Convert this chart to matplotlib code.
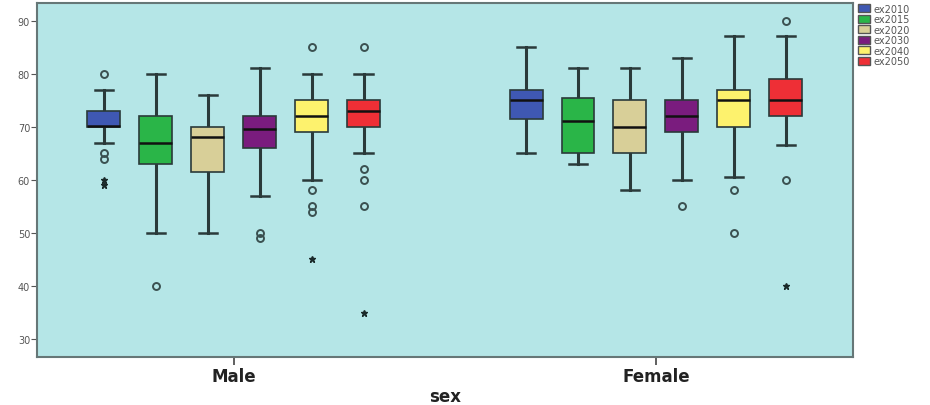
import matplotlib
matplotlib.use("Agg")
import matplotlib.pyplot as plt
from matplotlib.patches import Patch

groups = ["Male", "Female"]
series = ["ex2010", "ex2015", "ex2020", "ex2030", "ex2040", "ex2050"]
colors = ["#3f58b3", "#2ab548", "#d8cf98", "#7a1c7e", "#fdf26d", "#ee2f36"]

# stats per group per series: q1, median, q3, whisker low, whisker high
male_q1 = [70, 63, 61.5, 66, 69, 70]
male_med = [70.1, 67, 68, 69.5, 72, 73]
male_q3 = [73, 72, 70, 72, 75, 75]
male_wlo = [67, 50, 50, 57, 60, 65]
male_whi = [77, 80, 76, 81, 80, 80]
male_out = [[80, 65, 64], [40], [], [50, 49], [85, 58, 55, 54], [85, 62, 60, 55]]
male_ext = [[60, 59], [], [], [], [45], [35]]

female_q1 = [71.5, 65, 65, 69, 70, 72]
female_med = [75, 71, 70, 72, 75, 75]
female_q3 = [77, 75.5, 75, 75, 77, 79]
female_wlo = [65, 63, 58, 60, 60.5, 66.5]
female_whi = [85, 81, 81, 83, 87, 87]
female_out = [[], [], [], [55], [58, 50], [90, 60]]
female_ext = [[], [], [], [], [], [40]]

yticks = [30, 40, 50, 60, 70, 80, 90]

fig = plt.figure(figsize=(9.3, 4.06), dpi=100)
ax = fig.add_axes([0.0398, 0.118, 0.877, 0.872])
ax.set_facecolor("#b5e6e7")

spacing = 0.123
width = 0.078
offsets = [(i - 2.5) * spacing for i in range(len(series))]

data = [
    (male_q1, male_med, male_q3, male_wlo, male_whi, male_out, male_ext),
    (female_q1, female_med, female_q3, female_wlo, female_whi, female_out, female_ext),
]

for g, (q1, med, q3, wlo, whi, out, ext) in enumerate(data):
    for i in range(len(series)):
        st = dict(q1=q1[i], med=med[i], q3=q3[i], whislo=wlo[i], whishi=whi[i],
                  fliers=out[i])
        pos = g + offsets[i]
        ax.bxp([st], positions=[pos], widths=width, patch_artist=True,
               showfliers=True,
               boxprops=dict(facecolor=colors[i], edgecolor="#2a3a3a", linewidth=1.2, zorder=3),
               medianprops=dict(color="#111111", linewidth=1.8, zorder=4),
               whiskerprops=dict(color="#2a3a3a", linewidth=2.2, zorder=2),
               capprops=dict(color="#2a3a3a", linewidth=1.8),
               capwidths=width * 0.55,
               flierprops=dict(marker="o", markersize=5, markerfacecolor="none",
                               markeredgecolor="#3a5050", markeredgewidth=1.4))
        if ext[i]:
            ax.plot([pos] * len(ext[i]), ext[i], linestyle="none", marker="*",
                    markersize=4.5, color="#1a2a2a")

ax.set_xlim(-0.466, 1.466)
ax.set_ylim(26.6, 93.3)
ax.set_xticks([0, 1])
ax.set_xticklabels(groups, fontsize=12, fontweight="bold", color="#222222")
ax.set_yticks(yticks)
ax.set_yticklabels([str(t) for t in yticks], fontsize=7, color="#555555")
ax.tick_params(axis="y", length=4, width=0.8, color="#555555", pad=1)
ax.tick_params(axis="x", length=6, width=1.2, color="#444444", pad=1)
ax.set_xlabel("sex", fontsize=12, fontweight="bold", color="#222222")
ax.xaxis.set_label_coords(0.5, -0.085)
for sp in ax.spines.values():
    sp.set_color("#667777")
    sp.set_linewidth(1.5)

handles = [Patch(facecolor=c, edgecolor="#555555", label=s) for c, s in zip(colors, series)]
fig.legend(handles=handles, loc="upper left", bbox_to_anchor=(0.915, 1.005),
           frameon=False, fontsize=7, labelcolor="#555555", handlelength=1.3,
           handleheight=0.9, handletextpad=0.3, labelspacing=0.05, borderpad=0.2)

fig.savefig("out.png", dpi=100)
